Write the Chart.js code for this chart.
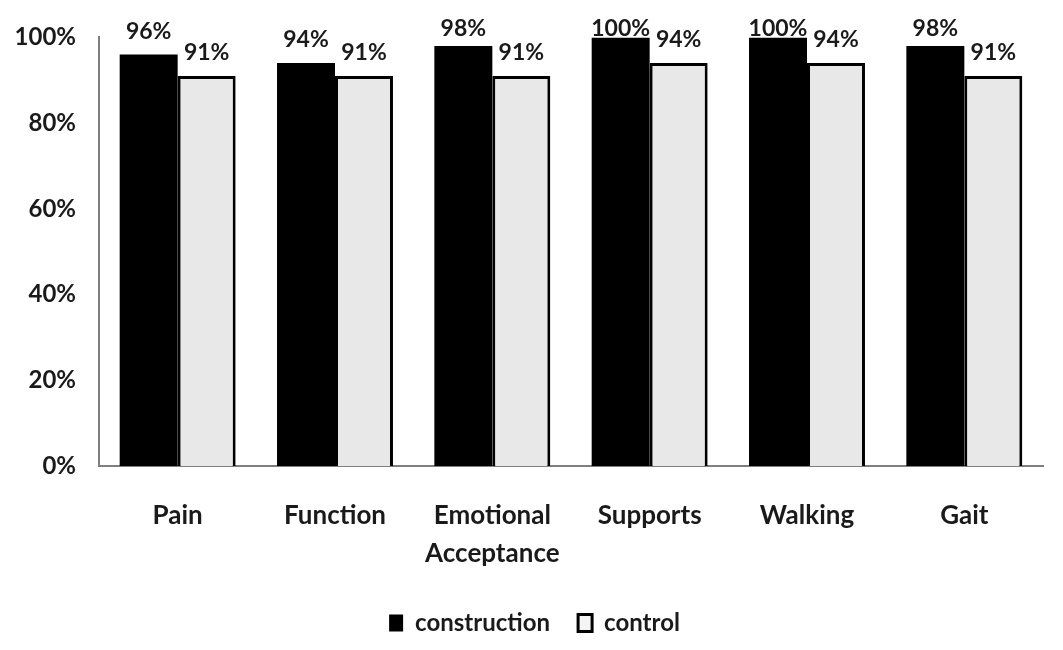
<!DOCTYPE html>
<html>
<head>
<meta charset="utf-8">
<script src="https://cdn.jsdelivr.net/npm/chart.js@4/dist/chart.umd.min.js"></script>
<style>
html,body{margin:0;padding:0;background:#fff;}
#wrap{width:1063px;height:650px;}
</style>
</head>
<body>
<div id="wrap"><canvas id="c" width="1063" height="650"></canvas></div>
<script>
const categories = ["Pain", "Function", ["Emotional", "Acceptance"], "Supports", "Walking", "Gait"];
const construction = [96, 94, 98, 100, 100, 98];
const control = [91, 91, 91, 94, 94, 91];
const yTicks = [0, 20, 40, 60, 80, 100];

const FONT = "Lato, 'Open Sans', sans-serif";
const TXT = '#1a1a1a';

const labelPlugin = {
  id: 'barLabels',
  afterLayout(chart) {
    if (chart.legend) { chart.legend.left += 13; chart.legend.right += 13; }
  },
  afterDatasetsDraw(chart) {
    const ctx = chart.ctx;
    ctx.save();
    ctx.font = "bold 23px " + FONT;
    ctx.fillStyle = TXT;
    ctx.textAlign = 'center';
    ctx.textBaseline = 'alphabetic';
    const top = chart.chartArea.top;
    chart.data.datasets.forEach((ds, i) => {
      const meta = chart.getDatasetMeta(i);
      meta.data.forEach((bar, j) => {
        const baseline = Math.max(bar.y - 16, top - 1);
        ctx.fillText(ds.data[j] + '%', bar.x, baseline);
      });
    });
    ctx.restore();
  }
};

new Chart(document.getElementById('c'), {
  type: 'bar',
  data: {
    labels: categories,
    datasets: [
      { label: 'construction', data: construction, backgroundColor: '#000', borderColor: '#000', borderWidth: 0,
        barPercentage: 1, categoryPercentage: 0.737 },
      { label: 'control', data: control, backgroundColor: '#e8e8e8', borderColor: '#000', borderWidth: 3,
        barPercentage: 1, categoryPercentage: 0.737, borderSkipped: 'bottom' }
    ]
  },
  options: {
    responsive: false,
    animation: false,
    devicePixelRatio: 1,
    layout: { padding: { left: 0, right: 20, top: 35, bottom: 5 } },
    plugins: {
      legend: {
        position: 'bottom',
        labels: {
          font: { family: FONT, size: 24, weight: 'bold' },
          color: TXT,
          boxWidth: 14, boxHeight: 17,
          padding: 28,
          generateLabels(chart) {
            return chart.data.datasets.map((ds, i) => ({
              text: ds.label,
              fillStyle: i === 0 ? '#000' : '#f4f4f4',
              strokeStyle: '#000',
              lineWidth: i === 0 ? 0 : 3,
              fontColor: TXT,
              datasetIndex: i
            }));
          }
        }
      },
      tooltip: { enabled: false }
    },
    scales: {
      x: {
        grid: { display: false, drawTicks: false },
        border: { display: true, color: '#7f7f7f', width: 2 },
        ticks: { font: { family: FONT, size: 26, weight: 'bold', lineHeight: 1.46 }, color: TXT, padding: 31, maxRotation: 0 },
        afterFit(s) { s.height = 117; }
      },
      y: {
        min: 0, max: 100,
        afterBuildTicks(s) { s.ticks = yTicks.map(v => ({ value: v })); },
        grid: { display: false, drawTicks: false },
        border: { display: true, color: '#7f7f7f', width: 2 },
        ticks: { font: { family: FONT, size: 24, weight: 'bold' }, color: TXT, padding: 23,
          callback: v => v + '%' },
        afterFit(s) { s.width = 99; }
      }
    }
  },
  plugins: [labelPlugin]
});
</script>
</body>
</html>
